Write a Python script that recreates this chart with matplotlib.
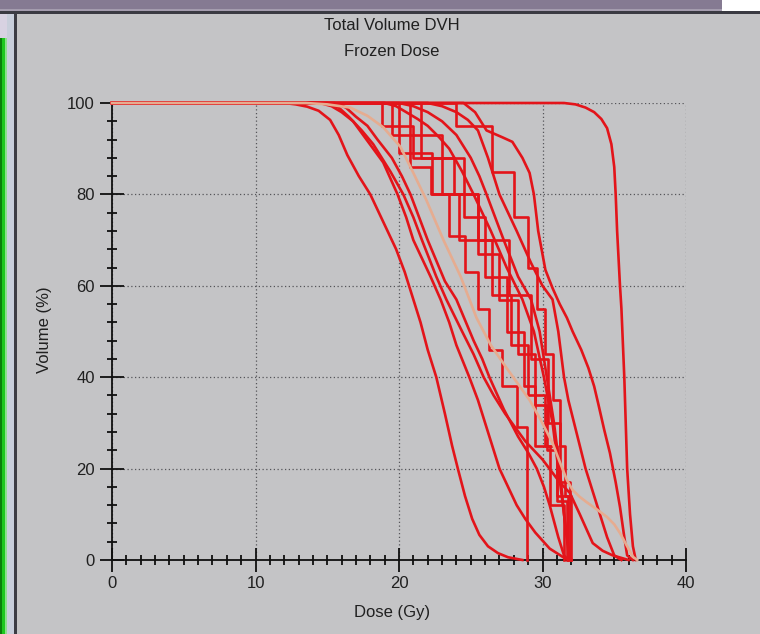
import matplotlib
matplotlib.use("Agg")
import matplotlib.pyplot as plt
from matplotlib.patches import Rectangle
from matplotlib.ticker import MultipleLocator

plt.rcParams['font.family'] = ['Liberation Sans', 'DejaVu Sans']

# smooth DVH curves (dose Gy, volume %)
a_dose = [0, 12, 12.8, 13.6, 14.4, 15.2, 15.8, 16.4, 17.2, 18, 18.6, 19.2, 19.8, 20.4, 21, 21.5,
          22, 22.6, 23.2, 23.7, 24.1, 24.6, 25.1, 25.6, 26.2, 26.9, 27.6, 28.6]
a_vol = [100, 100, 99.7, 99.2, 98.3, 96.3, 93, 88.6, 84, 80, 76, 72, 68, 63, 57, 52,
         46, 40, 32, 25, 20, 14, 9, 5.5, 3, 1.5, 0.6, 0]

b_dose = [0, 31.5, 32.3, 33, 33.6, 34.1, 34.5, 34.8, 35, 35.1, 35.2, 35.4, 35.5, 35.7, 35.9, 36.1, 36.3, 36.5]
b_vol = [100, 100, 99.7, 99, 98, 96.5, 94.5, 91, 86, 80, 72, 60, 55, 40, 20, 10, 3, 0]

c_dose = [0, 24.5, 25.3, 26.1, 27.2, 27.9, 28.6, 29.1, 29.4, 29.7, 30.2, 30.7, 31.2, 31.7, 32.1,
          32.7, 33.2, 33.6, 33.9, 34.3, 34.7, 35.1, 35.4, 35.7, 35.9, 36.3]
c_vol = [100, 100, 98, 94, 92.5, 91.5, 88, 84.7, 80, 72, 63.5, 59.5, 56, 53, 50,
         46, 42, 38, 34, 28.5, 23.4, 17, 11.6, 5, 1, 0]

d1_dose = [0, 14.5, 15.3, 16, 16.8, 17.5, 18.2, 18.9, 19.4, 19.9, 20.5, 21, 21.6, 22.2, 22.9, 23.5,
           24, 24.9, 25.5, 26, 26.5, 27, 27.6, 28.2, 28.8, 29.5, 30.5, 31.5, 32]
d1_vol = [100, 100, 99.3, 98, 96, 93, 90, 87, 83.5, 80, 75, 70, 66, 62, 57, 52,
          47, 40, 35, 30, 25, 20, 16, 12, 9, 6, 2.5, 0.5, 0]

d2_dose = [0, 15, 15.8, 16.5, 17.4, 18.2, 18.8, 19.4, 20.3, 21, 21.6, 22.6, 23.3, 24.4, 25.2, 25.9,
           26.6, 27.4, 28.1, 28.8, 29.4, 30, 30.6, 31.2, 31.9, 32.6, 33.1, 33.5, 34.2, 34.9, 36]
d2_vol = [100, 100, 99, 97, 94, 91, 88, 85, 80, 75, 70, 62, 57, 50, 45, 40,
          36, 32, 29, 26, 24, 22, 19.5, 17, 14.7, 10, 6.5, 3.7, 2, 1, 0]

d3_dose = [0, 15.5, 16.3, 17, 17.8, 18.5, 19.5, 20.2, 20.8, 21.4, 22, 22.6, 23.2, 24, 24.6, 25.2,
           25.8, 26.3, 26.8, 27.3, 28.3, 29, 29.6, 30.1, 30.5, 30.8, 31.1, 31.5, 31.8]
d3_vol = [100, 100, 99, 97, 95, 92, 88, 84, 80, 75, 70, 65.5, 61, 57, 52.5, 48,
          44, 40, 36.5, 33, 27, 23.5, 20, 16, 12, 8.5, 5, 1, 0]

e1_dose = [0, 19, 19.8, 20.5, 21.3, 22, 22.8, 23.5, 24.4, 25.2, 25.8, 26.4, 27.5, 28.6, 29.4,
           30.1, 30.7, 31.1, 31.5, 31.8, 32]
e1_vol = [100, 100, 99.3, 98, 96.5, 95, 92.5, 90, 85, 80, 76, 72, 64, 57, 50,
          40, 30, 20, 10, 3, 0]

e2_dose = [0, 20, 21, 22, 23, 24, 25, 25.6, 26.1, 26.7, 27.3, 28.3, 29.2, 29.8, 30.3, 30.8,
           31.2, 31.5, 31.8, 32]
e2_vol = [100, 100, 99.3, 98, 96, 93, 88, 84, 80, 75, 70, 62, 57, 50, 40, 30,
          20, 10, 2, 0]

e3_dose = [0, 22, 23, 24, 24.8, 25.5, 26.2, 26.6, 27, 27.6, 28.2, 29.2, 30, 30.7, 31.1, 31.5,
           31.8, 32.2, 32.6, 33, 33.4, 33.8, 34.2, 34.5, 35, 35.5]
e3_vol = [100, 100, 99.3, 98, 96.3, 94, 88, 84, 80, 76, 72, 65, 60, 57, 50, 40,
          35, 30, 25, 20, 16, 12, 8, 5, 1, 0]

# coarse (step) DVH curves
s1_dose = [0, 19.5, 20.8, 22.2, 23.5, 24.6, 25.5, 26.3, 27.2, 28.2, 28.9]
s1_vol = [100, 93, 86, 80, 71, 63, 55, 46, 38, 29, 0]
s2_dose = [0, 21.5, 24.5, 26.0, 27.5, 28.7, 29.5, 30.5, 31.5]
s2_vol = [100, 88, 75, 62, 50, 38, 25, 12, 0]
s3_dose = [0, 20.0, 22.3, 24.2, 26.5, 27.8, 29.0, 30.2, 31.0, 31.8]
s3_vol = [100, 89, 80, 70, 58, 47, 36, 25, 14, 0]
s4_dose = [0, 18.8, 21.0, 23.8, 25.5, 27.0, 28.3, 29.5, 30.3, 31.0, 31.7]
s4_vol = [100, 95, 88, 80, 67, 57, 45, 34, 24, 13, 0]
s5_dose = [0, 24.0, 26.5, 28.0, 29.0, 29.6, 30.2, 30.7, 31.2, 31.6, 32.0]
s5_vol = [100, 95, 85, 75, 64, 55, 45, 35, 25, 14, 0]
s6_dose = [0, 20.8, 23.0, 25.5, 27.7, 29.2, 30.4, 31.2, 31.9]
s6_vol = [100, 93, 80, 70, 58, 44, 30, 17, 0]

# mean curve
m_dose = [0, 13.5, 15, 16.6, 17.8, 18.9, 20.1, 21, 21.9, 23.1, 24.3, 25.4, 26.4, 27.5, 28.3, 29.1,
          29.9, 30.7, 31.2, 31.7, 32.1, 32.6, 33.1, 33.6, 34.5, 35, 35.4, 35.9, 36.3, 36.6]
m_vol = [100, 100, 99.7, 99, 97.2, 94.7, 90.4, 84.7, 78.8, 70, 62, 53, 47, 42, 38.5, 35,
         30.5, 25.6, 21.5, 17.5, 15.3, 13.8, 12.6, 11.5, 9.4, 7.8, 5.9, 3, 0.7, 0]

smooth = [(a_dose, a_vol), (b_dose, b_vol), (c_dose, c_vol), (d1_dose, d1_vol), (d2_dose, d2_vol),
          (d3_dose, d3_vol), (e1_dose, e1_vol), (e2_dose, e2_vol), (e3_dose, e3_vol)]
steps = [(s1_dose, s1_vol), (s2_dose, s2_vol), (s3_dose, s3_vol), (s4_dose, s4_vol),
         (s5_dose, s5_vol), (s6_dose, s6_vol)]

W, H = 760, 634
bg = '#c4c4c6'
red = '#e3141a'

fig = plt.figure(figsize=(W / 100, H / 100), dpi=100, facecolor=bg)


def px_rect(x0, y0, x1, y1, color):
    fig.add_artist(Rectangle((x0 / W, 1 - y1 / H), (x1 - x0) / W, (y1 - y0) / H,
                             transform=fig.transFigure, facecolor=color, edgecolor='none', zorder=-5))


# window frame
px_rect(0, 0, 760, 11, '#857a92')
px_rect(0, 9, 760, 11, '#a49cae')
px_rect(722, 0, 760, 11, '#ffffff')
px_rect(0, 11, 760, 14, '#3a3a42')
px_rect(0, 14, 7, 38, '#d8d2e2')
px_rect(0, 38, 2, 634, '#0a800a')
px_rect(2, 38, 5, 634, '#1ec81e')
px_rect(5, 38, 7, 634, '#8ce08c')
px_rect(7, 14, 14, 634, '#c8cedb')
px_rect(14, 14, 17, 634, '#3c3c44')

ax = fig.add_axes([112 / W, 1 - 560 / H, (686 - 112) / W, (560 - 103) / H])
ax.set_facecolor(bg)
ax.set_xlim(0, 40)
ax.set_ylim(0, 100)

for sp in ['top', 'right']:
    ax.spines[sp].set_visible(False)
for sp in ['left', 'bottom']:
    ax.spines[sp].set_color('#101010')
    ax.spines[sp].set_linewidth(1.3)

ax.xaxis.set_major_locator(MultipleLocator(10))
ax.xaxis.set_minor_locator(MultipleLocator(1))
ax.yaxis.set_major_locator(MultipleLocator(20))
ax.yaxis.set_minor_locator(MultipleLocator(4))
ax.tick_params(which='major', direction='inout', length=17, width=1.3, color='#101010',
               labelsize=12, labelcolor='#202020')
ax.tick_params(which='minor', direction='inout', length=7, width=1.3, color='#101010')
ax.tick_params(axis='x', which='major', pad=3)
ax.tick_params(axis='y', which='major', pad=4)

ax.grid(True, which='major', color='#55555a', linestyle=(0, (1, 2)), linewidth=0.9)
ax.set_axisbelow(True)

for dose, vol in smooth:
    ax.plot(dose, vol, color=red, lw=1.9, clip_on=False, zorder=3)
for dose, vol in steps:
    ax.plot(dose, vol, color=red, lw=1.9, drawstyle='steps-post', clip_on=False, zorder=3)
ax.plot(m_dose, m_vol, color='#e6ac90', lw=1.9, clip_on=False, zorder=4)

fig.text(392 / W, 1 - 25 / H, 'Total Volume DVH', ha='center', va='center', fontsize=12, color='#202020')
fig.text(392 / W, 1 - 52 / H, 'Frozen Dose', ha='center', va='center', fontsize=12, color='#202020')
fig.text(392 / W, 1 - 612 / H, 'Dose (Gy)', ha='center', va='center', fontsize=12, color='#202020')
fig.text(45 / W, 1 - 330 / H, 'Volume (%)', ha='center', va='center', rotation=90, fontsize=12, color='#202020')

fig.savefig('out.png', dpi=100, facecolor=bg)
